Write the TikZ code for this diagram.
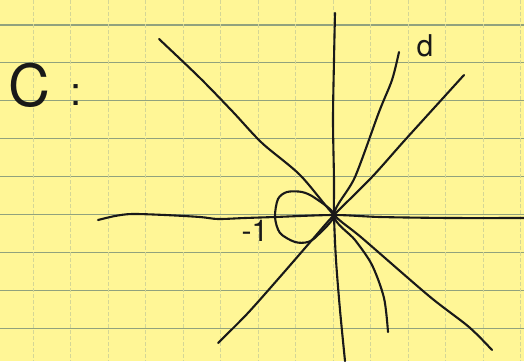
\documentclass[tikz,border=0pt]{standalone}
\usepackage{fontspec}
\setsansfont{TeX Gyre Heros}
\usetikzlibrary{positioning,calc}
\definecolor{sk paper}{RGB}{255,246,150}
\definecolor{sk rule}{RGB}{145,162,125}
\definecolor{sk faint}{RGB}{212,214,150}
\tikzset{
  sk hrule/.style={draw=sk rule,line width=1.1pt},
  sk vrule/.style={draw=sk faint,line width=0.8pt,dash pattern=on 4pt off 2pt},
  sk stroke/.style={draw=black!90,line width=2.1pt,line cap=round,line join=round},
  sk label/.style={font=\sffamily,text=black!90,inner sep=0pt}
}

\begin{document}
\begin{tikzpicture}[x=1pt,y=-1pt]
  \fill[sk paper] (0,0) rectangle (524,361);
  \useasboundingbox (0,0) rectangle (524,361);

  % ruled paper
  \foreach \k in {0,...,8}
    \draw[sk hrule] (0,25+37.9*\k) -- (524,25+37.9*\k);
  \foreach \k in {0,...,13}
    \draw[sk vrule] (33+37.5*\k,0) -- (33+37.5*\k,361);

  \coordinate (O) at (334,215);

  % real axis and imaginary axis
  \draw[sk stroke] plot[smooth] coordinates {(98,220) (115,216) (132,214)
    (165,215) (200,217) (218,219) (245,218) (275,217) (O) (380,217) (450,218) (524,218)};
  \draw[sk stroke] plot[smooth] coordinates {(335,13) (334,60) (333,120)
    (334,180) (O) (336,260) (340,310) (345,361)};

  % rays through the origin
  \draw[sk stroke] plot[smooth] coordinates {(159,39) (200,78) (233,112)
    (262,143) (300,175) (O) (362,238) (429,296) (469,327) (492,350)};
  \draw[sk stroke] plot[smooth] coordinates {(464,75) (405,140)
    (372,177) (O) (312,240) (279,278) (247,314) (218,343)};
  \draw[sk stroke] plot[smooth] coordinates {(399,52) (392,80) (379,112)
    (355,177) (O) (355,240) (372,265) (384,298) (388,332)};

  % loop round -1
  \draw[sk stroke] plot[smooth cycle] coordinates {(O) (315,198) (302,192)
    (287,192) (278,199) (275,217) (280,233) (295,242) (308,242) (318,235)};

  \node[sk label,font=\sffamily\fontsize{58}{58}\selectfont] (cname) at (29,85) {C};
  \node[sk label,font=\sffamily\fontsize{40}{40}\selectfont] (colon) at (76,95) {:};
  \node[sk label,font=\sffamily\fontsize{30}{30}\selectfont] (dname) at (425,46) {d};
  \node[sk label,font=\sffamily\fontsize{30}{30}\selectfont] (minusone) at (255,231) {-1};
\end{tikzpicture}
\end{document}
